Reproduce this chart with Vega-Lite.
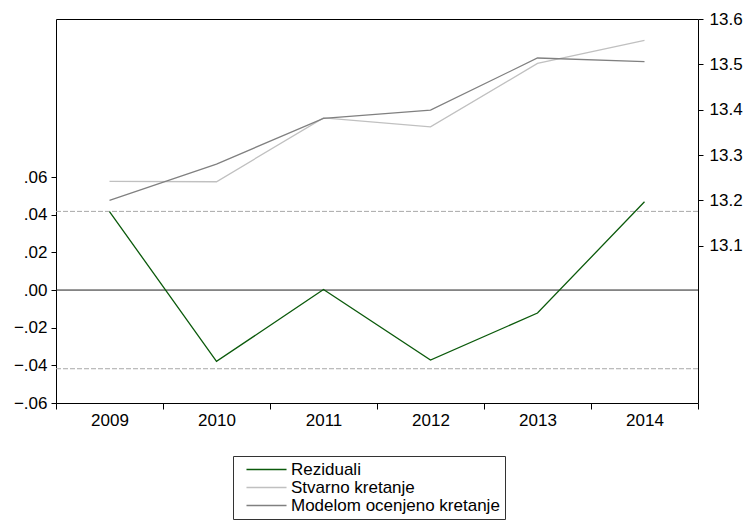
{
  "$schema": "https://vega.github.io/schema/vega-lite/v6.json",
  "width": 642,
  "height": 384,
  "autosize": {"type": "none"},
  "padding": {"left": 56, "top": 19, "right": 50, "bottom": 121},
  "background": "white",
  "config": {
    "view": {"stroke": "black", "strokeWidth": 1},
    "font": "Liberation Sans",
    "axis": {
      "labelFont": "Liberation Sans",
      "labelFontSize": 17,
      "labelColor": "black",
      "tickColor": "black",
      "domain": false,
      "grid": false,
      "title": null
    },
    "legend": {
      "orient": "none",
      "legendX": 177,
      "legendY": 437,
      "title": null,
      "strokeColor": "#333333",
      "fillColor": "white",
      "padding": 5,
      "symbolType": "M-2.86,0H2.86",
      "symbolSize": 196,
      "symbolOffset": 20,
      "symbolStrokeWidth": 1.3,
      "labelFont": "Liberation Sans",
      "labelFontSize": 17,
      "labelColor": "black",
      "labelOffset": 16,
      "labelLimit": 400,
      "rowPadding": 0
    }
  },
  "datasets": {
    "series": [
      {"year": "2009", "series": "Reziduali", "value": 0.0417},
      {"year": "2010", "series": "Reziduali", "value": -0.0379},
      {"year": "2011", "series": "Reziduali", "value": 0.0003},
      {"year": "2012", "series": "Reziduali", "value": -0.0372},
      {"year": "2013", "series": "Reziduali", "value": -0.0122},
      {"year": "2014", "series": "Reziduali", "value": 0.0469},
      {"year": "2009", "series": "Stvarno kretanje", "value": 13.242},
      {"year": "2010", "series": "Stvarno kretanje", "value": 13.241},
      {"year": "2011", "series": "Stvarno kretanje", "value": 13.382},
      {"year": "2012", "series": "Stvarno kretanje", "value": 13.362},
      {"year": "2013", "series": "Stvarno kretanje", "value": 13.502},
      {"year": "2014", "series": "Stvarno kretanje", "value": 13.553},
      {"year": "2009", "series": "Modelom ocenjeno kretanje", "value": 13.200},
      {"year": "2010", "series": "Modelom ocenjeno kretanje", "value": 13.280},
      {"year": "2011", "series": "Modelom ocenjeno kretanje", "value": 13.381},
      {"year": "2012", "series": "Modelom ocenjeno kretanje", "value": 13.399},
      {"year": "2013", "series": "Modelom ocenjeno kretanje", "value": 13.514},
      {"year": "2014", "series": "Modelom ocenjeno kretanje", "value": 13.506}
    ],
    "bands": [
      {"level": 0.0418, "kind": "se"},
      {"level": -0.0418, "kind": "se"},
      {"level": 0, "kind": "zero"}
    ]
  },
  "encoding": {
    "x": {
      "field": "year",
      "type": "nominal",
      "scale": {"type": "band", "paddingInner": 0, "paddingOuter": 0},
      "axis": {
        "orient": "bottom",
        "tickBand": "extent",
        "tickSize": 6,
        "labelPadding": 3,
        "labelAngle": 0
      }
    }
  },
  "layer": [
    {
      "layer": [
        {
          "data": {"name": "bands"},
          "transform": [{"filter": "datum.kind === 'se'"}],
          "mark": {"type": "rule", "color": "#a8a8a8", "strokeWidth": 1, "strokeDash": [5, 2]},
          "encoding": {
            "x": null,
            "y": {"field": "level", "type": "quantitative"}
          }
        },
        {
          "data": {"name": "bands"},
          "transform": [{"filter": "datum.kind === 'zero'"}],
          "mark": {"type": "rule", "color": "#202020", "strokeWidth": 1},
          "encoding": {
            "x": null,
            "y": {"field": "level", "type": "quantitative"}
          }
        },
        {
          "data": {"name": "series"},
          "transform": [{"filter": "datum.series === 'Reziduali'"}],
          "mark": {"type": "line", "strokeWidth": 1.3},
          "encoding": {
            "y": {"field": "value", "type": "quantitative"},
            "color": {
              "field": "series",
              "type": "nominal",
              "scale": {
                "domain": ["Reziduali", "Stvarno kretanje", "Modelom ocenjeno kretanje"],
                "range": ["#0b5a0b", "#c0c0c0", "#808080"]
              },
              "sort": null
            }
          }
        }
      ],
      "encoding": {
        "y": {
          "scale": {"domain": [-0.06, 0.144], "nice": false, "zero": false},
          "axis": {
            "orient": "left",
            "values": [-0.06, -0.04, -0.02, 0, 0.02, 0.04, 0.06],
            "labelExpr": "replace(format(datum.value, '.2f'), '0.', '.')",
            "tickSize": 5,
            "labelPadding": 4
          }
        }
      }
    },
    {
      "data": {"name": "series"},
      "transform": [{"filter": "datum.series !== 'Reziduali'"}],
      "mark": {"type": "line", "strokeWidth": 1.3},
      "encoding": {
        "y": {
          "field": "value",
          "type": "quantitative",
          "scale": {"domain": [12.753, 13.6], "nice": false, "zero": false},
          "axis": {
            "orient": "right",
            "values": [13.1, 13.2, 13.3, 13.4, 13.5, 13.6],
            "format": ".1f",
            "tickSize": 5,
            "labelPadding": 6
          }
        },
        "color": {
          "field": "series",
          "type": "nominal",
          "scale": {
            "domain": ["Reziduali", "Stvarno kretanje", "Modelom ocenjeno kretanje"],
            "range": ["#0b5a0b", "#c0c0c0", "#808080"]
          },
          "sort": null
        }
      }
    }
  ],
  "resolve": {"scale": {"y": "independent"}, "axis": {"y": "independent"}}
}
